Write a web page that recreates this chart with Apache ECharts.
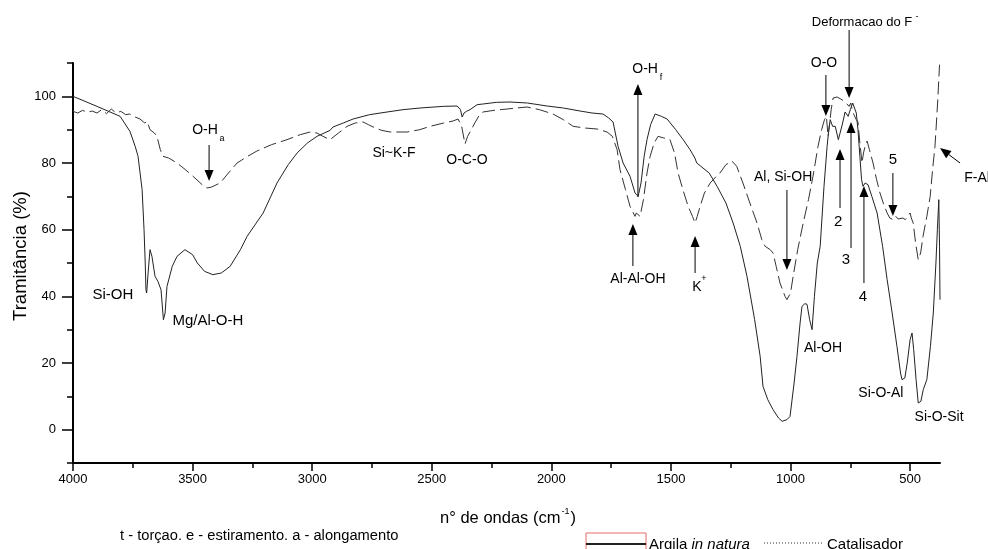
<!DOCTYPE html>
<html><head><meta charset="utf-8">
<script src="https://cdn.jsdelivr.net/npm/echarts@6/dist/echarts.min.js"></script>
<style>html,body{margin:0;padding:0;background:#fff}#c{width:988px;height:549px}</style>
</head><body><div id="c"></div>
<script>
// ---------- DATA ----------
const argilaWave = [4000,3900,3803,3762,3740,3728,3711,3703,3698,3695,3692,3686,3678,3670,3657,3645,3632,3622,3615,3607,3585,3565,3532,3500,3480,3450,3415,3380,3343,3300,3272,3205,3147,3100,3063,3020,2980,2925,2913,2870,2829,2760,2687,2620,2549,2450,2394,2380,2373,2365,2355,2340,2310,2286,2230,2173,2100,2018,1950,1880,1830,1784,1760,1742,1721,1700,1671,1650,1637,1625,1612,1600,1585,1566,1540,1516,1480,1449,1420,1400,1392,1385,1340,1307,1270,1240,1210,1182,1150,1127,1115,1095,1073,1050,1035,1015,1002,985,973,960,952,940,931,920,910,900,888,876,860,847,840,834,824,813,800,793,782,772,765,759,750,740,734,725,718,710,703,697,688,676,660,638,615,596,575,555,540,534,522,512,500,492,485,475,466,455,445,430,415,403,392,386,380,377,375];
const argilaT = [100,97,94,89.5,85,82,72,60,50,42,41,47,54,52,46,44.5,42,33,35,43,49,52,54,52.5,50,47.5,46.5,47,49,54,58,65,74,79.5,83,86,88,89.8,90.8,92,93.2,94.5,95.3,96,96.5,97,97.1,96,93.8,95,95.5,96,97.5,97.7,98.2,98.3,98,97.1,96.5,95.6,95,94.7,93.5,92.3,85,80,76,71,70,74,82,87,91.5,94.7,94,93.2,90,87,84,81.5,80,80.5,77,73,68,62,55,46,33,22,13,9,6,3.5,2.5,3,4,14,22,32,37,37.8,37.6,33,30,40,50,55,73,85,90,93,91,91,87,86.5,92,95.3,95,94,96,98,98.3,95,90,82,75,73,74,73.5,70,65,55,45,35,25,17,15,15.5,20,27,29,24,15,8,8.5,12,15,25,35,50,60,69,55,39];

const catWave = [4000,3980,3960,3940,3920,3900,3880,3860,3840,3820,3800,3780,3762,3740,3720,3700,3690,3678,3660,3649,3635,3624,3600,3565,3530,3498,3460,3440,3420,3385,3350,3314,3270,3231,3170,3105,3050,3009,2980,2955,2925,2890,2854,2820,2787,2765,2745,2710,2674,2603,2550,2507,2450,2411,2390,2375,2361,2350,2340,2320,2300,2286,2240,2185,2102,2050,1993,1950,1909,1860,1809,1767,1745,1725,1713,1690,1671,1650,1645,1638,1629,1615,1600,1587,1570,1554,1530,1504,1485,1470,1450,1428,1410,1399,1390,1378,1360,1336,1310,1295,1270,1245,1225,1199,1170,1140,1120,1106,1085,1073,1060,1044,1023,1015,1010,1000,989,970,947,925,906,885,870,858,850,843,836,830,822,805,790,775,764,755,748,743,735,725,718,710,701,695,688,680,670,655,640,626,610,596,585,571,560,550,542,530,520,510,500,495,487,477,466,456,446,430,416,406,396,390,385,380,377];
const catT = [95.5,95,95.8,95.2,95.6,95,96,94.8,96.2,95,95.5,94.5,94.7,93.8,93.2,92,92.5,90,89,88,84,82,81.5,80,78,76,73.5,72.5,72.8,74,77,80,82,83.6,85.5,87,88.5,89.3,89,88,87,89,91,92,92.3,91.5,90.8,89.8,89.3,89.3,90,91,92,92.6,93.2,91,85.7,88,89.3,92,94.5,95.3,95.8,96.2,96.8,96,94.7,93,91,90.5,90.2,89.3,88,84,78,72,67,64,65,65,64,69,77,82,86,88,87.5,87,83,77,72,67,64,62,64,67,71,74,76,77,79.5,80.6,79,74,68,62,57,55,54,53,49,44,40,39,38.5,41,46,54,62,69,76,85,90,93,94,88,92,96,99.5,99.8,99.2,98.5,97.7,97,98,96.2,94.5,93,92.3,86,80,83,85,86.6,84,80,75,71,67.5,65,63.5,63,64,63.2,63,63.5,63,64,65,63.5,62,56,51,53,58,64,70,78,85,92,98,105,109.5];

const xMajorTicks = [4000,3500,3000,2500,2000,1500,1000,500];
const xMinorTicks = [3750,3250,2750,2250,1750,1250,750];
const yMajorTicks = [0,20,40,60,80,100];
const yMinorTicks = [-10,10,30,50,70,90,110];

// annotation labels: text, wavenumber, transmittance
const labelTexts = ['Si-OH','Mg/Al-O-H','O-H','Si~K-F','O-C-O','O-H','Al-Al-OH','K','Al, Si-OH','Al-OH','Deformacao do F','O-O','2','3','4','5','F-Al','Si-O-Al','Si-O-Sit'];
const labelWave  = [3833,3436,3448,2658,2353,1608,1638,1391,1031,864,701,860,801,768,697,572,220,622,379];
const labelT     = [40.4,32.6,89.9,83,80.9,108.2,45.2,42.8,75.8,24.5,122.3,110,62.3,50.9,39.8,80.9,75.6,11,3.8];
// small sub/superscripts
const smallTexts = ['a','f','+','-'];
const smallWave  = [3377,1542,1362,471];
const smallT     = [87.3,105.6,45.2,124];
// arrows: tail -> head
const arrowFromWave = [3431,1638,1659,1399,1015,755,852,793,747,693,572,291];
const arrowFromT    = [85.4,69.8,49.1,47,71.9,119.9,106.4,66.5,54.5,44,77,80];
const arrowToWave   = [3431,1638,1659,1399,1015,755,852,793,747,693,572,375];
const arrowToT      = [74.6,103.7,61.7,58.1,47.9,99.5,94.1,84.2,92.3,73.1,64.1,84.5];

// ---------- CHART ----------
const SANS = "'Liberation Sans',Arial,sans-serif";
const chart = echarts.init(document.getElementById('c'), null, {renderer:'canvas'});
const zip = (a,b)=>a.map((v,i)=>[v,b[i]]);
const tickStyle = {color:'#000', width:1.5};

chart.setOption({
  animation:false,
  backgroundColor:'#fff',
  grid:{left:73,right:48,top:63,bottom:86,containLabel:false,outerBoundsMode:'none'},
  xAxis:[
    {type:'value',inverse:true,min:375,max:4000,position:'bottom',
     axisLine:{show:true,onZero:false,lineStyle:{color:'#000',width:2}},
     axisTick:{show:true,customValues:xMajorTicks,length:8,lineStyle:tickStyle},
     axisLabel:{customValues:xMajorTicks,margin:10,fontSize:13,color:'#000',fontFamily:SANS,formatter:v=>String(v)},
     splitLine:{show:false}},
    {type:'value',inverse:true,min:375,max:4000,position:'bottom',
     axisLine:{show:false,onZero:false},
     axisTick:{show:true,customValues:xMinorTicks,length:5,lineStyle:tickStyle},
     axisLabel:{show:false,customValues:xMinorTicks},
     splitLine:{show:false}}
  ],
  yAxis:[
    {type:'value',min:-10,max:110,position:'left',
     axisLine:{show:true,onZero:false,lineStyle:{color:'#000',width:2}},
     axisTick:{show:true,customValues:yMajorTicks,length:11,lineStyle:tickStyle},
     axisLabel:{customValues:yMajorTicks,margin:17,fontSize:13,color:'#000',fontFamily:SANS,formatter:v=>String(v)},
     splitLine:{show:false}},
    {type:'value',min:-10,max:110,position:'left',
     axisLine:{show:false,onZero:false},
     axisTick:{show:true,customValues:yMinorTicks,length:6,lineStyle:tickStyle},
     axisLabel:{show:false,customValues:yMinorTicks},
     splitLine:{show:false}}
  ],
  series:[
    {name:'Argila in natura',type:'line',xAxisIndex:0,yAxisIndex:0,showSymbol:false,smooth:false,
     data:zip(argilaWave,argilaT),lineStyle:{color:'#222',width:1,type:'solid'}},
    {name:'Catalisador',type:'line',xAxisIndex:0,yAxisIndex:0,showSymbol:false,smooth:false,
     data:zip(catWave,catT),lineStyle:{color:'#333',width:1,type:[13,5]}}
  ]
});

function P(w,t){return chart.convertToPixel({xAxisIndex:0,yAxisIndex:0},[w,t]);}
const g = [];
labelTexts.forEach((s,i)=>{
  const p = P(labelWave[i],labelT[i]);
  let fs = 14;
  if (i<2) fs = 15;
  if (s==='Deformacao do F') fs = 13;
  if (s.length===1 && /[2-5]/.test(s)) fs = 15;
  g.push({type:'text',x:p[0],y:p[1],silent:true,style:{text:s,fontSize:fs,fontFamily:SANS,fill:'#000',align:'center',verticalAlign:'middle'}});
});
smallTexts.forEach((s,i)=>{
  const p = P(smallWave[i],smallT[i]);
  g.push({type:'text',x:p[0],y:p[1],silent:true,style:{text:s,fontSize:9,fontFamily:SANS,fill:'#000',align:'center',verticalAlign:'middle'}});
});
arrowFromWave.forEach((w,i)=>{
  const a = P(w,arrowFromT[i]), b = P(arrowToWave[i],arrowToT[i]);
  const dx=b[0]-a[0], dy=b[1]-a[1], L=Math.hypot(dx,dy), ux=dx/L, uy=dy/L;
  const HL=11, HW=4.5;
  const bx=b[0]-ux*HL, by=b[1]-uy*HL;
  g.push({type:'line',silent:true,shape:{x1:a[0],y1:a[1],x2:bx,y2:by},style:{stroke:'#000',lineWidth:1}});
  g.push({type:'polygon',silent:true,shape:{points:[[b[0],b[1]],[bx-uy*HW,by+ux*HW],[bx+uy*HW,by-ux*HW]]},style:{fill:'#000'}});
});
// axis titles
g.push({type:'text',x:21,y:256,rotation:Math.PI/2,silent:true,style:{text:'Tramitância (%)',fontSize:18.5,fontFamily:SANS,fill:'#000',align:'center',verticalAlign:'middle'}});
g.push({type:'text',x:508,y:518,silent:true,style:{text:'{a|n° de ondas (cm}{s|-1}{a|)}',align:'center',verticalAlign:'middle',
  rich:{a:{fontSize:16.5,fontFamily:SANS,fill:'#000'},s:{fontSize:9,fontFamily:SANS,fill:'#000',padding:[0,1,12,1]}}}});
// note
g.push({type:'text',x:120,y:536,silent:true,style:{text:'t - torçao. e - estiramento. a - alongamento',fontSize:14.7,fontFamily:SANS,fill:'#000',align:'left',verticalAlign:'middle'}});
// legend
g.push({type:'rect',silent:true,shape:{x:586,y:533,width:60,height:30},style:{fill:'none',stroke:'#e86a6a',lineWidth:1}});
g.push({type:'line',silent:true,shape:{x1:586,y1:544,x2:646,y2:544},style:{stroke:'#222',lineWidth:2}});
g.push({type:'text',x:649,y:545,silent:true,style:{text:'{n|Argila }{i|in natura}',align:'left',verticalAlign:'middle',
  rich:{n:{fontSize:15,fontFamily:SANS,fill:'#000'},i:{fontSize:15,fontFamily:SANS,fontStyle:'italic',fill:'#000'}}}});
g.push({type:'line',silent:true,shape:{x1:764,y1:543,x2:822,y2:543},style:{stroke:'#333',lineWidth:1,lineDash:[1,2]}});
g.push({type:'text',x:827,y:545,silent:true,style:{text:'Catalisador',fontSize:15,fontFamily:SANS,fill:'#000',align:'left',verticalAlign:'middle'}});

chart.setOption({graphic:{elements:g}});
</script>
</body></html>
